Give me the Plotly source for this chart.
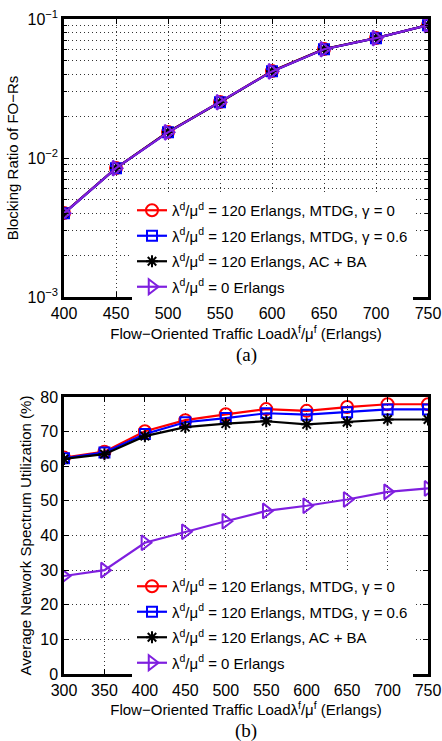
import plotly.graph_objects as go

# ---- data (a) ----
load_a = [400, 450, 500, 550, 600, 650, 700, 750]
block_mtdg0 = [0.00402, 0.00847, 0.0154, 0.0253, 0.0422, 0.0608, 0.073, 0.0905]
block_mtdg06 = [0.00400, 0.00845, 0.0153, 0.0252, 0.0420, 0.0606, 0.0728, 0.0903]
block_acba = [0.00401, 0.00846, 0.0154, 0.0252, 0.0421, 0.0607, 0.0729, 0.0904]
block_zero = [0.00400, 0.00845, 0.0153, 0.0252, 0.0420, 0.0606, 0.0729, 0.0904]

# ---- data (b) ----
load_b = [300, 350, 400, 450, 500, 550, 600, 650, 700, 750]
util_mtdg0 = [62.5, 64.2, 70.1, 73.3, 75.0, 76.5, 76.0, 77.1, 77.9, 77.9]
util_mtdg06 = [62.3, 64.0, 69.3, 72.7, 73.9, 75.3, 74.9, 75.6, 76.4, 76.4]
util_acba = [62.1, 63.5, 68.7, 71.3, 72.3, 73.0, 72.1, 72.7, 73.5, 73.5]
util_zero = [28.3, 30.0, 37.9, 41.1, 44.1, 47.1, 48.6, 50.4, 52.6, 53.6]

names = [
    "λ<sup>d</sup>/μ<sup>d</sup> = 120 Erlangs, MTDG, γ = 0",
    "λ<sup>d</sup>/μ<sup>d</sup> = 120 Erlangs, MTDG, γ = 0.6",
    "λ<sup>d</sup>/μ<sup>d</sup> = 120 Erlangs, AC + BA",
    "λ<sup>d</sup>/μ<sup>d</sup> = 0 Erlangs",
]
colors = ["#ff0000", "#0000ff", "#000000", "#7f1fdf"]
symbols = ["circle-open", "square-open", "asterisk-open", "triangle-right-open"]
sizes = [12, 10, 10, 13]

FONT = "Liberation Sans, Arial, sans-serif"
fig = go.Figure()

series_a = [block_mtdg0, block_mtdg06, block_acba, block_zero]
series_b = [util_mtdg0, util_mtdg06, util_acba, util_zero]
for i in range(4):
    fig.add_trace(go.Scatter(
        x=load_a, y=series_a[i], name=names[i], mode="lines+markers",
        line=dict(color=colors[i], width=2.2),
        marker=dict(symbol=symbols[i], size=sizes[i], color=colors[i],
                    line=dict(color=colors[i], width=2)),
        xaxis="x", yaxis="y", legend="legend", legendgroup="a%d" % i))
for i in range(4):
    fig.add_trace(go.Scatter(
        x=load_b, y=series_b[i], name=names[i], mode="lines+markers",
        line=dict(color=colors[i], width=2.2),
        marker=dict(symbol=symbols[i], size=sizes[i], color=colors[i],
                    line=dict(color=colors[i], width=2)),
        xaxis="x2", yaxis="y2", legend="legend2", legendgroup="b%d" % i))

W, H = 442, 741
def px_x(p):
    return p / W
def px_y(p):
    return 1 - p / H

GRID = "1px,3px"
axis_common = dict(
    showline=True, linecolor="black", linewidth=2.5, mirror="ticks",
    ticks="inside", ticklen=5, tickcolor="black", tickwidth=1,
    showgrid=True, gridcolor="#333333", griddash=GRID, gridwidth=1,
    zeroline=False, automargin=False, ticklabeloverflow="allow",
    tickfont=dict(family=FONT, size=16, color="black"),
)

xtitle = "Flow−Oriented Traffic Loadλ<sup>f</sup>/μ<sup>f</sup> (Erlangs)"
minor_vals = [k * 1e-3 for k in range(2, 10)] + [k * 1e-2 for k in range(2, 10)]

fig.update_layout(
    width=W, height=H,
    margin=dict(l=0, r=0, t=0, b=0, autoexpand=False),
    paper_bgcolor="white", plot_bgcolor="white",
    font=dict(family=FONT, size=15, color="black"),
    xaxis=dict(axis_common, domain=[px_x(64), px_x(428)], range=[400, 750],
               tickvals=[400, 450, 500, 550, 600, 650, 700, 750], anchor="y",
               title=dict(text=xtitle, font=dict(size=15), standoff=8)),
    yaxis=dict(axis_common, domain=[px_y(297), px_y(19)], type="log",
               range=[-3, -1], anchor="x",
               tickvals=[0.001, 0.01, 0.1],
               ticktext=["10<sup>−3</sup>", "10<sup>−2</sup>", "10<sup>−1</sup>"],
               minor=dict(tickvals=minor_vals, showgrid=True, griddash=GRID,
                          gridcolor="#333333", ticks="inside", ticklen=3,
                          tickcolor="black"),
               title=dict(text="Blocking Ratio of FO−Rs", font=dict(size=15),
                          standoff=6)),
    xaxis2=dict(axis_common, domain=[px_x(64), px_x(428)], range=[300, 750],
                tickvals=load_b, anchor="y2",
                title=dict(text=xtitle, font=dict(size=15), standoff=5)),
    yaxis2=dict(axis_common, domain=[px_y(674), px_y(397)], range=[0, 80],
                tickvals=[0, 10, 20, 30, 40, 50, 60, 70, 80], anchor="x2",
                title=dict(text="Average Network Spectrum Utilization (%)",
                           font=dict(size=15), standoff=6)),
    legend=dict(x=px_x(132), y=px_y(194), xanchor="left", yanchor="top",
                bgcolor="white", borderwidth=0, tracegroupgap=3,
                font=dict(family=FONT, size=15), itemwidth=30),
    legend2=dict(x=px_x(132), y=px_y(570), xanchor="left", yanchor="top",
                 bgcolor="white", borderwidth=0, tracegroupgap=3,
                 font=dict(family=FONT, size=15), itemwidth=30),
    showlegend=True,
    annotations=[
        dict(text="(a)", x=px_x(246), y=px_y(355), xref="paper", yref="paper",
             xanchor="center", yanchor="middle", showarrow=False,
             font=dict(family="Liberation Serif, Times New Roman, serif", size=19)),
        dict(text="(b)", x=px_x(246), y=px_y(731), xref="paper", yref="paper",
             xanchor="center", yanchor="middle", showarrow=False,
             font=dict(family="Liberation Serif, Times New Roman, serif", size=19)),
    ],
)

fig.write_html(
    "out.html",
    config={"displayModeBar": False},
    post_script="document.body.style.margin='0px';document.body.style.overflow='hidden';",
)
